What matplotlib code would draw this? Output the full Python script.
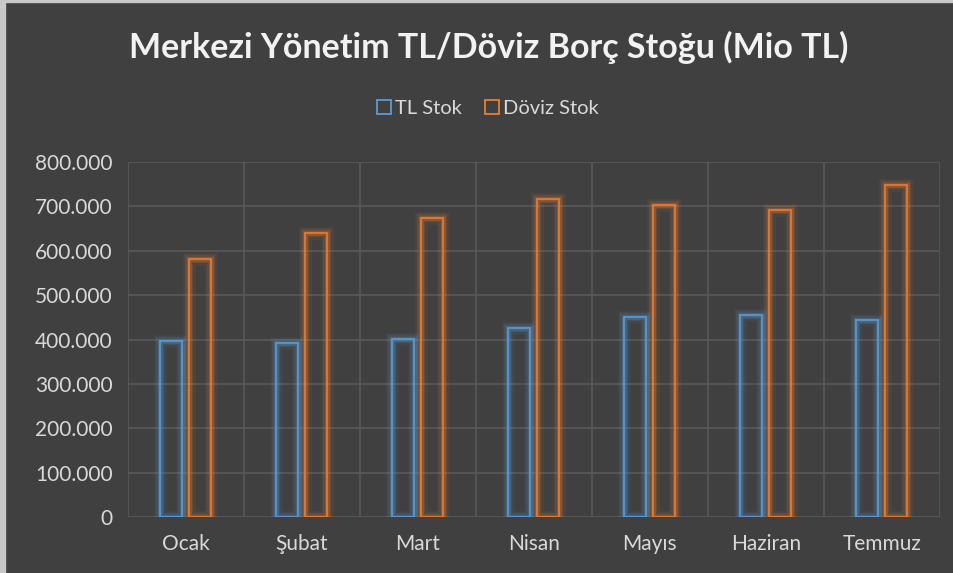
import matplotlib.pyplot as plt
import matplotlib.patheffects as pe
from matplotlib.patches import Rectangle
from matplotlib.lines import Line2D
import numpy as np

plt.rcParams['font.family'] = ['Lato', 'DejaVu Sans']

# data (Mio TL)
months = ['Ocak', 'Şubat', 'Mart', 'Nisan', 'Mayıs', 'Haziran', 'Temmuz']
tl_stok = [396000, 392000, 401000, 425000, 451000, 455000, 445000]
doviz_stok = [581000, 640000, 673000, 716000, 703000, 693000, 748000]
yticks = [0, 100000, 200000, 300000, 400000, 500000, 600000, 700000, 800000]
ylabels = ['0', '100.000', '200.000', '300.000', '400.000', '500.000',
           '600.000', '700.000', '800.000']

bg = '#404040'
blue = '#5b9bd5'
orange = '#ed7d31'
text_col = '#d9d9d9'
grid_col = '#595959'

fig = plt.figure(figsize=(9.54, 5.73), dpi=100)
fig.patch.set_facecolor(bg)
ax = fig.add_axes([0.134, 0.0977, 0.851, 0.6195])
ax.set_facecolor(bg)

x = np.arange(len(months))
w = 0.19
off = 0.125


def glow(color):
    return [pe.Stroke(linewidth=9, foreground=color, alpha=0.08),
            pe.Stroke(linewidth=6, foreground=color, alpha=0.14),
            pe.Stroke(linewidth=3.5, foreground=color, alpha=0.25),
            pe.Normal()]


b1 = ax.bar(x - off, tl_stok, w, facecolor='none', edgecolor=blue, linewidth=1.2, zorder=3)
b2 = ax.bar(x + off, doviz_stok, w, facecolor='none', edgecolor=orange, linewidth=1.2, zorder=3)
for b in b1:
    b.set_path_effects(glow(blue))
for b in b2:
    b.set_path_effects(glow(orange))

ax.set_xlim(-0.5, len(months) - 0.5)
ax.set_ylim(0, 800000)
ax.set_yticks(yticks)
ax.set_yticklabels(ylabels)
ax.set_xticks(x)
ax.set_xticklabels(months)
ax.tick_params(axis='both', length=0, colors=text_col, labelsize=15)
ax.tick_params(axis='x', pad=12)
ax.tick_params(axis='y', pad=11)

ax.grid(axis='y', color=grid_col, linewidth=1.2, zorder=0)
for xv in np.arange(-0.5, len(months), 1.0):
    ax.axvline(xv, color=grid_col, linewidth=1.2, zorder=0)
for s in ax.spines.values():
    s.set_visible(False)

fig.text(0.512, 0.918, 'Merkezi Yönetim TL/Döviz Borç Stoğu (Mio TL)',
         ha='center', va='center', color='#f2f2f2', fontsize=24.5, fontweight='bold')

handles = [Line2D([], [], marker='s', linestyle='none', markersize=10,
                  markerfacecolor='none', markeredgecolor=blue, markeredgewidth=1.3),
           Line2D([], [], marker='s', linestyle='none', markersize=10,
                  markerfacecolor='none', markeredgecolor=orange, markeredgewidth=1.3)]
leg = fig.legend(handles, ['TL Stok', 'Döviz Stok'], loc='center', ncol=2,
                 bbox_to_anchor=(0.51, 0.81), frameon=False, fontsize=14.5,
                 handletextpad=0.05, columnspacing=1.0, handlelength=1.0)
for t in leg.get_texts():
    t.set_color(text_col)

# light screenshot border on top and left
fig.patches.append(Rectangle((0, 0.996), 1, 0.004, transform=fig.transFigure,
                             color='#c8c8c8', zorder=10))
fig.patches.append(Rectangle((0, 0), 0.005, 1, transform=fig.transFigure,
                             color='#c8c8c8', zorder=10))

fig.savefig('out.png', dpi=100, facecolor=bg)
